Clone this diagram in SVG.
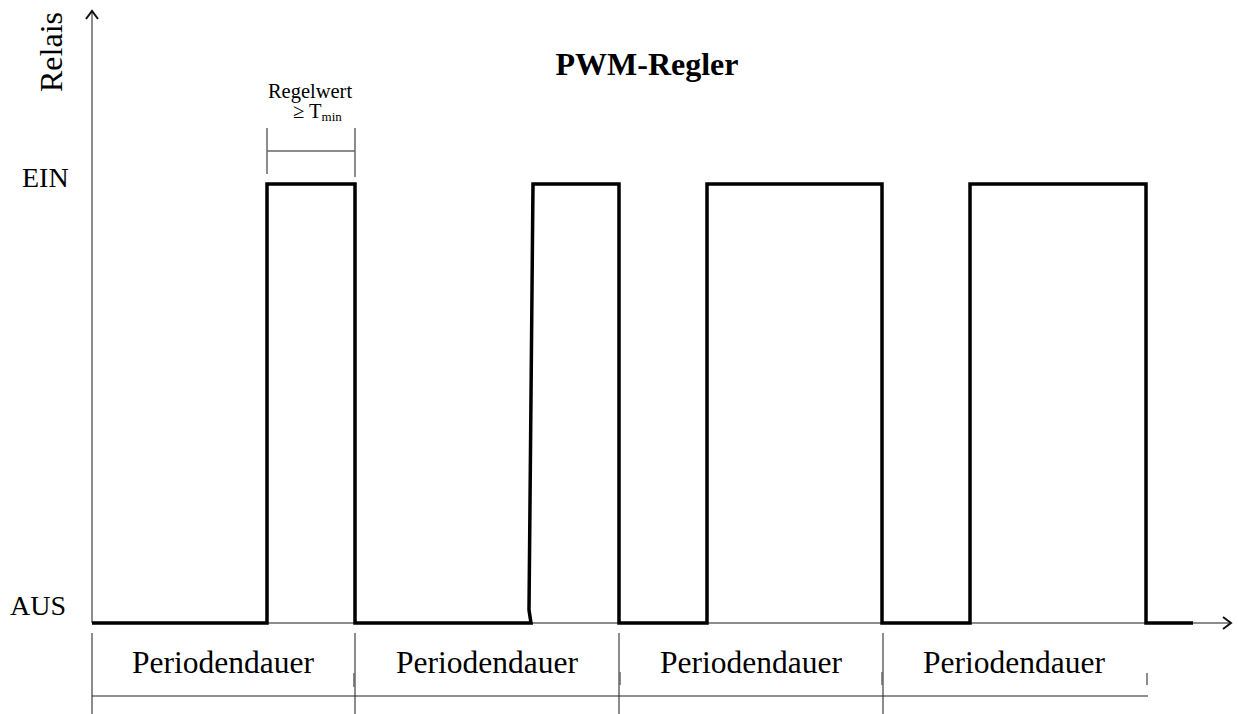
<svg xmlns="http://www.w3.org/2000/svg" width="1238" height="714" viewBox="0 0 1238 714">
  <style>
    .axis { stroke: #666; stroke-width: 1.5; fill: none; }
    .tip { stroke: #111; stroke-width: 2; fill: none; }
    .signal { stroke: #000; stroke-width: 3.5; fill: none; stroke-linejoin: miter; }
    .thin { stroke: #666; stroke-width: 1.5; fill: none; }
    .rule { stroke: #222; stroke-width: 1.2; fill: none; }
    .lbl { font-family: "Liberation Serif", "Times New Roman", serif; fill: #000; }
  </style>
  <rect width="1238" height="714" fill="#fff"/>

  <!-- axes -->
  <g id="axes">
    <line class="axis" x1="92" y1="623" x2="92" y2="11"/>
    <polyline class="tip" points="86,19 92,11 98,19"/>
    <line class="axis" x1="92" y1="623" x2="1231" y2="623"/>
    <polyline class="tip" points="1223,617 1231,623 1223,629"/>
  </g>

  <!-- axis labels -->
  <g id="label-relais">
    <text class="lbl" font-size="32" text-anchor="middle" transform="translate(62,52) rotate(-90)">Relais</text>
  </g>
  <g id="label-ein">
    <text class="lbl" font-size="28" x="22" y="187">EIN</text>
  </g>
  <g id="label-aus">
    <text class="lbl" font-size="28" x="10" y="615">AUS</text>
  </g>
  <g id="title">
    <text class="lbl" font-size="32" font-weight="bold" text-anchor="middle" x="647" y="75">PWM-Regler</text>
  </g>

  <!-- relay switching signal -->
  <g id="signal">
    <path class="signal" d="M92,623 H267 V184 H355 V623 H531 L529,610 L533,184 H619 V623 H707 V184 H882 V623 H970 V184 H1146 V623 H1193"/>
  </g>

  <!-- minimum on-time marker -->
  <g id="regelwert">
    <line class="thin" x1="267" y1="128" x2="267" y2="174"/>
    <line class="thin" x1="355" y1="128" x2="355" y2="177"/>
    <line class="thin" x1="267" y1="151" x2="355" y2="151"/>
    <text class="lbl" font-size="20.5" text-anchor="middle" x="310" y="98">Regelwert</text>
    <text class="lbl" x="293" y="118"><tspan font-size="20.5">≥ T</tspan><tspan font-size="13" dy="3">min</tspan></text>
  </g>

  <!-- period segments -->
  <g id="connectors">
    <line class="thin" x1="92" y1="633" x2="92" y2="714"/>
    <line class="thin" x1="355" y1="633" x2="355" y2="714"/>
    <line class="thin" x1="619" y1="633" x2="619" y2="714"/>
    <line class="thin" x1="883" y1="633" x2="883" y2="714"/>
    <line class="thin" x1="354" y1="673" x2="354" y2="687"/>
    <line class="thin" x1="620" y1="672" x2="620" y2="685"/>
    <line class="thin" x1="882" y1="672" x2="882" y2="685"/>
    <line class="thin" x1="1147" y1="673" x2="1147" y2="685"/>
    <line class="rule" x1="92" y1="696" x2="1148" y2="696"/>
  </g>
  <g id="period-1"><text class="lbl" font-size="31.5" text-anchor="middle" x="223" y="673">Periodendauer</text></g>
  <g id="period-2"><text class="lbl" font-size="31.5" text-anchor="middle" x="487" y="673">Periodendauer</text></g>
  <g id="period-3"><text class="lbl" font-size="31.5" text-anchor="middle" x="751" y="673">Periodendauer</text></g>
  <g id="period-4"><text class="lbl" font-size="31.5" text-anchor="middle" x="1014" y="673">Periodendauer</text></g>
</svg>
